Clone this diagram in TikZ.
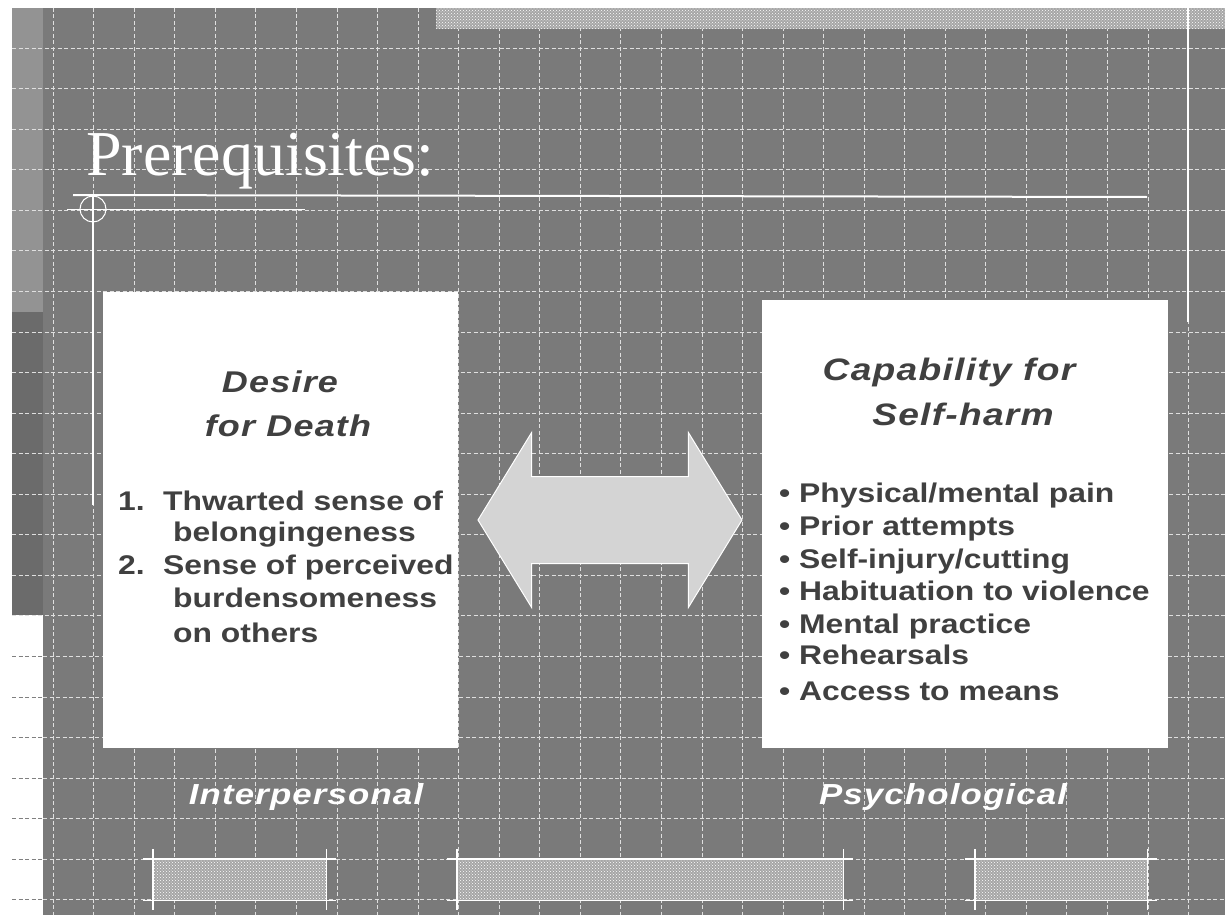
\documentclass[tikz,border=0pt]{standalone}
\usepackage{fontspec}
\setmainfont{Liberation Sans}[FakeStretch=1.18]
\newfontfamily\headfont{Liberation Sans}[FakeStretch=1.2,LetterSpace=4]
\newfontfamily\titlefont{Liberation Serif}
\usetikzlibrary{positioning,patterns,shapes.arrows}
\definecolor{slate}{HTML}{7A7A7A}
\definecolor{stripA}{HTML}{939393}
\definecolor{stripB}{HTML}{6B6B6B}
\definecolor{ink}{HTML}{404040}
\definecolor{hatchbase}{HTML}{A6A6A6}
\definecolor{arrowgray}{HTML}{D4D4D4}
\tikzstyle{gridline}=[draw=#1,line width=0.6pt,dash pattern=on 4pt off 2.5pt]
\tikzstyle{rule}=[draw=white,line width=#1]
\tikzstyle{panel}=[fill=white,inner sep=0pt,anchor=north west]
\tikzstyle{hatchbar}=[fill=hatchbase,postaction={pattern=crosshatch dots,pattern color=white},inner sep=0pt,minimum height=41pt,anchor=north west]
\newcommand{\tickbar}[3]{
  \node[hatchbar,minimum width={#3-#2}] (#1) at (#2,859) {};
  \draw[rule=1.2pt] ([xshift=-10pt]#1.north west) -- ([xshift=10pt]#1.north east);
  \draw[rule=1.2pt] ([xshift=-10pt]#1.south west) -- ([xshift=10pt]#1.south east);
  \draw[rule=1.2pt] ([yshift=10pt]#1.north west) -- ([yshift=-10pt]#1.south west);
  \draw[rule=1.2pt] ([yshift=10pt]#1.north east) -- ([yshift=-10pt]#1.south east);}
\tikzset{
  heading/.style={font=\headfont\bfseries\itshape\fontsize{#1}{44}\selectfont,text=ink,align=center,inner sep=0pt},
  entry/.style={font=\bfseries\fontsize{27}{33}\selectfont,text=ink,inner sep=0pt,anchor=base west},
  tag/.style={font=\headfont\bfseries\itshape\fontsize{29}{34}\selectfont,text=white,inner sep=0pt,anchor=base}
}

\begin{document}
\begin{tikzpicture}[x=1pt,y=-1pt]
    \useasboundingbox (0,0) rectangle (1225,915);

    % background and side strips
    \fill[slate] (43,8) rectangle (1225,915);
    \fill[stripA] (12,8) rectangle (43,312);
    \fill[stripB] (12,312) rectangle (43,615);

    % grid
    \foreach \k in {0,...,28}
        \draw[gridline=white!75!gray] ({53+40.55*\k},8) -- ({53+40.55*\k},915);
    \foreach \k in {0,...,14}
        \draw[gridline=white!75!gray] (12,{48+40.55*\k}) -- (1225,{48+40.55*\k});
    \foreach \k in {15,...,21}{
        \draw[gridline=white!75!gray] (43,{48+40.55*\k}) -- (1225,{48+40.55*\k});
        \draw[gridline=gray] (12,{48+40.55*\k}) -- (43,{48+40.55*\k});
    }
    \fill[hatchbase,postaction={pattern=crosshatch dots,pattern color=white}] (436,8) rectangle (1225,29);

    % title and rules
    \node[font=\titlefont\fontsize{64}{70}\selectfont,text=white,inner sep=0pt,anchor=base west] (title) at (86,175) {Prerequisites:};
    \coordinate (ruleL) at (73,195);
    \coordinate (ruleR) at (1147,197);
    \draw[rule=2pt] (ruleL) -- (ruleR);
    \node[circle,draw=white,line width=1pt,minimum size=26pt,inner sep=0pt] (ring) at (93,209) {};
    \coordinate (thinL) at (67,209);
    \coordinate (thinR) at (305,209);
    \draw[rule=1pt] (thinL) -- (thinR);
    \coordinate (railend) at (93,505);
    \draw[rule=1.2pt] (ring.north) -- (railend);
    \coordinate (postT) at (1188,8);
    \coordinate (postB) at (1188,322);
    \draw[rule=1.5pt] (postT) -- (postB);

    % the two panels
    \node[panel,minimum width=355pt,minimum height=456pt] (desire) at (103,292) {};
    \node[panel,minimum width=406pt,minimum height=448pt] (capability) at (762,300) {};

    \node[heading=30,anchor=base] (desireA) at (280,392) {Desire};
    \node[heading=30,anchor=base] (desireB) at (288,436) {for Death};
    \foreach \x/\y/\t [count=\i] in {118/510/{1.},163/510/{Thwarted sense of},173/541/{belongingeness},
        118/574/{2.},163/574/{Sense of perceived},173/607/{burdensomeness},173/642/{on others}}
        \node[entry] (need\i) at (\x,\y) {\t};

    \node[heading=31,anchor=base] (capA) at (949,380) {Capability for};
    \node[heading=31,anchor=base] (capB) at (963,425) {Self-harm};
    \foreach \y/\t [count=\i] in {502/{Physical/mental pain},535/{Prior attempts},568/{Self-injury/cutting},
        600/{Habituation to violence},633/{Mental practice},664/{Rehearsals},700/{Access to means}}
        \node[entry] (risk\i) at (779,\y) {\textbullet\ \t};

    % link between them
    \node[double arrow,fill=arrowgray,draw=white,line width=1pt,inner xsep=0pt,inner ysep=43pt,
          minimum height=264pt,minimum width=174pt,double arrow head extend=44pt,
          double arrow tip angle=117] (link) at (610,520) {};

    \node[tag] (inter) at (306,804) {Interpersonal};
    \node[tag] (psych) at (943,804) {Psychological};

    % bars at the foot
    \tickbar{barL}{153}{326}
    \tickbar{barM}{457}{843}
    \tickbar{barR}{975}{1147}
\end{tikzpicture}
\end{document}
